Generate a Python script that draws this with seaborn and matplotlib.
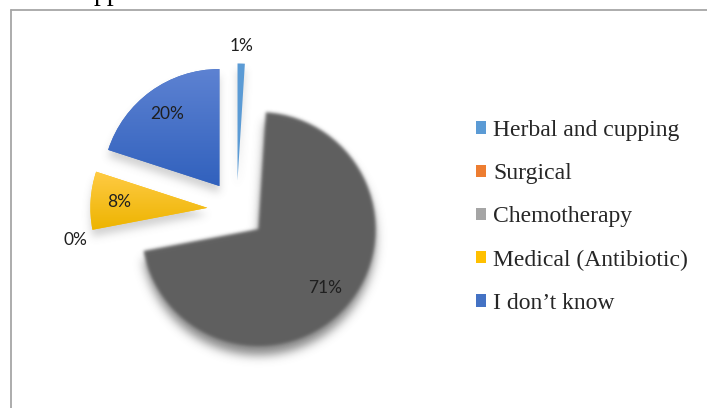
import numpy as np
import matplotlib
matplotlib.use('Agg')
import matplotlib.pyplot as plt
import seaborn as sns
from matplotlib.patches import Patch
from matplotlib.lines import Line2D
from matplotlib.colors import LinearSegmentedColormap, to_rgb

# data
categories = ['Herbal and cupping', 'Surgical', 'Chemotherapy',
              'Medical (Antibiotic)', 'I don\u2019t know']
shares = [1, 0, 71, 8, 20]

wedge_colors = ['#5B9BD5', '#ED7D31', '#5F5F5F', '#FFC000', '#4472C4']
legend_colors = ['#5B9BD5', '#ED7D31', '#A5A5A5', '#FFC000', '#4472C4']
explode = [0.25] * len(shares)

sns.set_theme(style='white')
plt.rcParams['font.family'] = ['Lato', 'DejaVu Sans']

W, H = 707, 408
R = 117.0          # pixels per pie radius
cx, cy = 236.6, 209.7   # pie centre in pixels (from top-left)


def soft(color, sigma, dy=0, alpha=1.0):
    # blur the alpha of an artist and repaint it in one colour (shadow / soft edge)
    rgb = to_rgb(color)

    def f(im, dpi):
        r = int(3 * sigma) + 1
        pad = r + abs(dy)
        a = np.pad(im[..., 3], pad)
        x = np.arange(-r, r + 1)
        k = np.exp(-0.5 * (x / sigma) ** 2)
        k /= k.sum()
        out = np.zeros_like(a)
        for i, kv in zip(x, k):
            out += kv * np.roll(a, i, axis=0)
        a = out
        out = np.zeros_like(a)
        for i, kv in zip(x, k):
            out += kv * np.roll(a, i, axis=1)
        out = np.roll(out, dy, axis=0)
        new = np.zeros(out.shape + (4,))
        new[..., 0], new[..., 1], new[..., 2] = rgb
        new[..., 3] = np.clip(out * alpha, 0, 1)
        return new, -pad, -pad
    return f


fig = plt.figure(figsize=(W / 100, H / 100), dpi=100)
ax = fig.add_axes([0, 0, 1, 1])

# shadow layer
shadow, _ = ax.pie(shares, explode=explode, startangle=90, counterclock=False,
                   colors=['#5F5F5F'] * len(shares), wedgeprops=dict(linewidth=0))
for w, v in zip(shadow, shares):
    w.set_zorder(1)
    if v == 0:
        w.set_visible(False)
    elif v > 50:
        w.set_agg_filter(soft('#5F5F5F', 5, dy=9, alpha=0.75))
    else:
        w.set_agg_filter(soft('#7F7F7F', 4, dy=7, alpha=0.35))

small = [f'{v}%' if v < 2 else '' for v in shares]
wedges, texts, autotexts = ax.pie(
    shares, explode=explode, startangle=90, counterclock=False,
    colors=wedge_colors, labels=small, labeldistance=1.15,
    autopct=lambda p: f'{p:.0f}%' if p >= 2 else '', pctdistance=0.76,
    wedgeprops=dict(linewidth=0),
    textprops=dict(fontsize=12.5, color='#1F1F1F'))

for w in wedges:
    w.set_zorder(2)
wedges[2].set_agg_filter(soft(wedge_colors[2], 1.6))

# gradient fill on the blue and yellow slices
grads = {3: ('#FFCB45', '#EDB400'), 4: ('#5D82D2', '#3161BD')}
for i, (top, bot) in grads.items():
    bb = wedges[i].get_path().get_extents()
    cmap = LinearSegmentedColormap.from_list('g', [top, bot])
    im = ax.imshow(np.linspace(0, 1, 256)[:, None], cmap=cmap, origin='upper',
                   extent=[bb.x0, bb.x1, bb.y0, bb.y1], aspect='auto', zorder=2.5)
    im.set_clip_path(wedges[i])

# labels of the zero slice: Excel put it at the chemo / medical boundary
for t, v in zip(texts, shares):
    t.set_ha('center')
    t.set_va('center')
    t.set_zorder(5)
zero = shares.index(0)
ang = np.deg2rad(wedges[2].theta1)
texts[zero].set_position((1.4 * np.cos(ang), 1.4 * np.sin(ang)))
for t in autotexts:
    t.set_zorder(5)

ax.set_xlim(-cx / R, (W - cx) / R)
ax.set_ylim(-(H - cy) / R, cy / R)
ax.set_aspect('equal')
ax.axis('off')

handles = [Patch(facecolor=c, edgecolor='none') for c in legend_colors]
fig.legend(handles, categories, loc='upper left',
           bbox_to_anchor=(476 / W, 1 - 120 / H), frameon=False,
           prop=dict(family='Liberation Serif', size=17),
           handlelength=0.42, handleheight=0.42, handletextpad=0.3,
           labelspacing=0.94, borderpad=0, borderaxespad=0)

# chart frame and the tail of the text above it
fig.add_artist(Line2D([11 / W, 1], [1 - 10 / H] * 2, transform=fig.transFigure,
                      color='#A6A6A6', lw=1.3))
fig.add_artist(Line2D([11 / W] * 2, [0, 1 - 10 / H], transform=fig.transFigure,
                      color='#A6A6A6', lw=1.3))
fig.text(94 / W, 1.0, 'pp', family='Liberation Serif', fontsize=20,
         color='black', va='baseline', ha='left')

fig.savefig('out.png', dpi=100, facecolor='white')
